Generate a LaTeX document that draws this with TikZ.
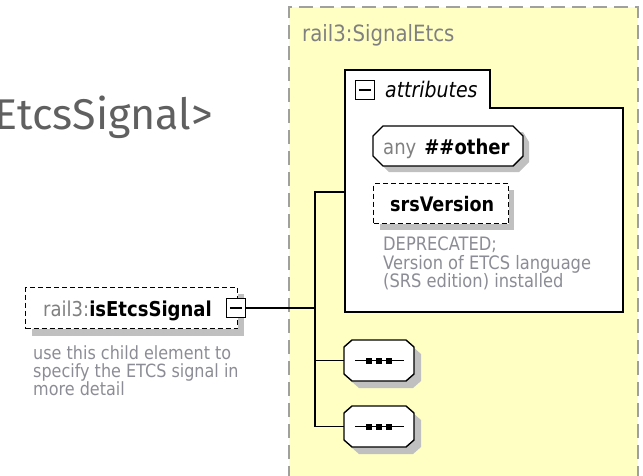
\documentclass[tikz,border=0pt]{standalone}
\usepackage{fontspec}
\setmainfont{DejaVu Sans}[FakeStretch=0.88]
\newfontfamily\titlefont{Fira Sans}
\usetikzlibrary{calc}
\definecolor{boxyellow}{RGB}{255,255,196}
\definecolor{dashgray}{RGB}{160,160,160}
\definecolor{shadowgray}{RGB}{192,192,192}
\definecolor{titlegray}{RGB}{96,96,96}
\definecolor{labelgray}{RGB}{128,128,128}
\definecolor{descgray}{RGB}{140,140,150}
\tikzset{
  txt/.style={inner sep=0pt, anchor=base west},
  conn/.style={line width=1.4pt, black},
  dashbox/.style={fill=white, draw=black, line width=1.4pt, dash pattern=on 5pt off 3pt},
  octbox/.style={fill=white, draw=black, line width=1.4pt},
  minusbox/.style={draw=black, fill=white, line width=1.4pt, minimum width=19pt, minimum height=19pt, inner sep=0pt}
}
\begin{document}
\begin{tikzpicture}[x=1pt,y=-1pt]
\useasboundingbox (0,0) rectangle (643,475);
\clip (0,0) rectangle (643,475);
% title
\node[inner sep=0pt, anchor=base east, text=titlegray, font=\titlefont\fontsize{43}{43}\selectfont] (title) at (213,129) {EtcsSignal>};
% yellow complex type box
\fill[boxyellow] (289,7) rectangle (638,480);
\draw[dashgray, line width=2pt, dash pattern=on 14pt off 7pt] (289,480) -- (289,7) -- (638,7) -- (638,480);
\node[txt, text=labelgray, font=\fontsize{22.4}{26}\selectfont] (ctlabel) at (302,41) {rail3:SignalEtcs};
% attributes box
\draw[fill=white, draw=black, line width=1.5pt] (345,70) -- (490,70) -- (490,108) -- (623,108) -- (623,312) -- (345,312) -- cycle;
\node[minusbox] (attrminus) at (365,90) {};
\draw[line width=1.2pt] ($(attrminus.west)+(4,0)$) -- ($(attrminus.east)+(-4,0)$);
\node[txt, font=\itshape\fontsize{21.5}{24}\selectfont] (attrlabel) at (385,97) {attributes};
\coordinate (attrL) at (345,192);
% any ##other
\fill[shadowgray] (389,132) -- (523,132) -- (529,142) -- (529,162) -- (519,172) -- (389,172) -- (379,162) -- (379,142) -- cycle;
\draw[octbox] (383,126) -- (513,126) -- (523,136) -- (523,156) -- (513,166) -- (383,166) -- (373,156) -- (373,136) -- cycle;
\node[txt, font=\fontsize{20.5}{24}\selectfont] (anyother) at (383,154) {\textcolor{labelgray}{any}\hspace{8pt}\textbf{\#\#other}};
% srsVersion
\fill[shadowgray] (380,190) rectangle (514,230);
\node[dashbox, minimum width=135pt, minimum height=40pt, inner sep=0pt, anchor=north west] (srsbox) at (373,183) {};
\node[txt, font=\bfseries\fontsize{20}{24}\selectfont] (srs) at (390,211) {srsVersion};
\node[inner sep=0pt, anchor=north west, align=left, text=descgray, font=\fontsize{18.5}{18.5}\selectfont] (srsdesc) at (383,237) {DEPRECATED;\\Version of ETCS language\\(SRS edition) installed};
% isEtcsSignal element
\fill[shadowgray] (32,294) rectangle (244,336);
\node[dashbox, minimum width=212pt, minimum height=41pt, inner sep=0pt, anchor=north west] (elem) at (25,287) {};
\node[txt, font=\fontsize{20.5}{24}\selectfont] (elemlabel) at (43,316) {\textcolor{labelgray}{rail3:}\textbf{isEtcsSignal}};
\node[minusbox] (elemminus) at (236,308) {};
\draw[line width=1.2pt] ($(elemminus.west)+(4,0)$) -- ($(elemminus.east)+(-4,0)$);
\node[inner sep=0pt, anchor=north west, align=left, text=descgray, font=\fontsize{18.2}{18}\selectfont] (elemdesc) at (33,345) {use this child element to\\specify the ETCS signal in\\more detail};
% sequence boxes
\fill[shadowgray] (359,347) -- (413,347) -- (421,354) -- (421,381) -- (413,388) -- (359,388) -- (351,381) -- (351,354) -- cycle;
\draw[octbox] (352,340) -- (406,340) -- (414,347) -- (414,374) -- (406,381) -- (352,381) -- (344,374) -- (344,347) -- cycle;
\coordinate (seq1L) at (344,360.5);
\draw[line width=1.2pt] (355,360.5) -- (404,360.5);
\foreach \xx in {369,379,389} \fill (\xx-2.8,358) rectangle (\xx+2.8,363.6);
\fill[shadowgray] (359,413) -- (413,413) -- (421,420) -- (421,447) -- (413,454) -- (359,454) -- (351,447) -- (351,420) -- cycle;
\draw[octbox] (352,406) -- (406,406) -- (414,413) -- (414,440) -- (406,447) -- (352,447) -- (344,440) -- (344,413) -- cycle;
\coordinate (seq2L) at (344,426.5);
\draw[line width=1.2pt] (355,426.5) -- (404,426.5);
\foreach \xx in {369,379,389} \fill (\xx-2.8,424) rectangle (\xx+2.8,429.6);
% connectors
\coordinate (jmid) at (315,308);
\coordinate (jtop) at (315,192);
\coordinate (jbot) at (315,426.5);
\draw[conn] (elemminus.east) -- (jmid);
\draw[conn] (attrL) -- (jtop) -- (jbot) -- (seq2L);
\draw[conn] (315,360.5) -- (seq1L);
\end{tikzpicture}
\end{document}
